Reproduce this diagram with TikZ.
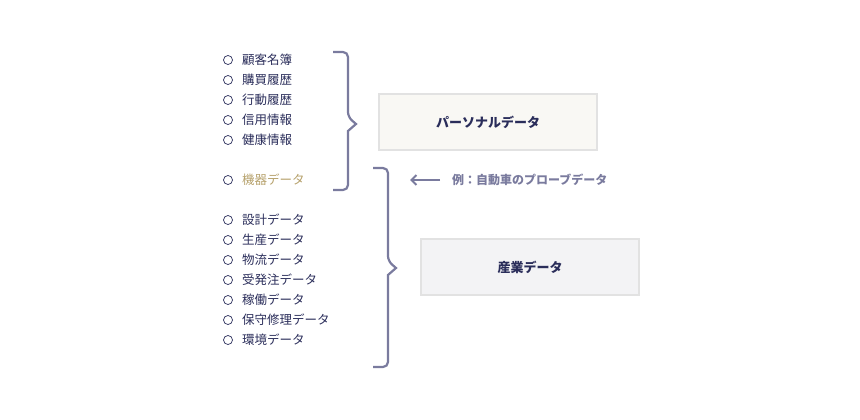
\documentclass[tikz,border=0pt]{standalone}
\usepackage{fontspec}
\usetikzlibrary{arrows.meta}
\newfontfamily\cjk{Noto Sans CJK JP}
\definecolor{navy}{HTML}{2A2D5A}
\definecolor{gold}{HTML}{B5A06A}
\definecolor{brace}{HTML}{7A7B9E}
\definecolor{boxa}{HTML}{F9F8F4}
\definecolor{boxb}{HTML}{F3F3F5}
\definecolor{boxline}{HTML}{E2E2E2}
\tikzset{
  item/.style={anchor=west,inner sep=0pt,font=\cjk\fontsize{12.5}{14}\selectfont,text=navy},
  bullet/.style={circle,draw=navy,line width=0.7pt,minimum size=9pt,inner sep=0pt},
  bracket/.style={draw=brace,line width=2.2pt,rounded corners=5pt},
  databox/.style={draw=boxline,line width=2pt,minimum width=218pt,minimum height=56pt,font=\cjk\bfseries\fontsize{13}{15}\selectfont,text=navy}
}
\begin{document}
\begin{tikzpicture}[x=1pt,y=-1pt]
\useasboundingbox (0,0) rectangle (860,420);
% list
\foreach \y/\t/\c in {60/顧客名簿/navy,80/購買履歴/navy,100/行動履歴/navy,120/信用情報/navy,140/健康情報/navy,180/機器データ/gold,220/設計データ/navy,240/生産データ/navy,260/物流データ/navy,280/受発注データ/navy,300/稼働データ/navy,320/保守修理データ/navy,340/環境データ/navy}{
  \node[bullet] (b\y) at (228,\y) {};
  \node[item,text=\c] (t\y) at (242,\y) {\t};
}
% boxes
\node[databox,fill=boxa] (personal) at (488,122) {パーソナルデータ};
\node[databox,fill=boxb] (industry) at (530,267) {産業データ};
% brackets
\draw[bracket] (333,52) -- (348,52) -- (348,117) [sharp corners] -- (356,124) -- (348,131) [rounded corners=5pt] -- (348,190) -- (333,190);
\draw[bracket] (373,168) -- (388,168) -- (388,261) [sharp corners] -- (396,268) -- (388,275) [rounded corners=5pt] -- (388,367) -- (373,367);
% example note
\node[item,text=brace,font=\cjk\bfseries\fontsize{12}{14}\selectfont] (note) at (452,180) {例：自動車のプローブデータ};
\coordinate (tip) at (410,180);
\draw[brace,line width=2pt,-{Straight Barb[length=5pt,width=10pt]}] ([xshift=-12pt]note.west) -- (tip);
\end{tikzpicture}
\end{document}
